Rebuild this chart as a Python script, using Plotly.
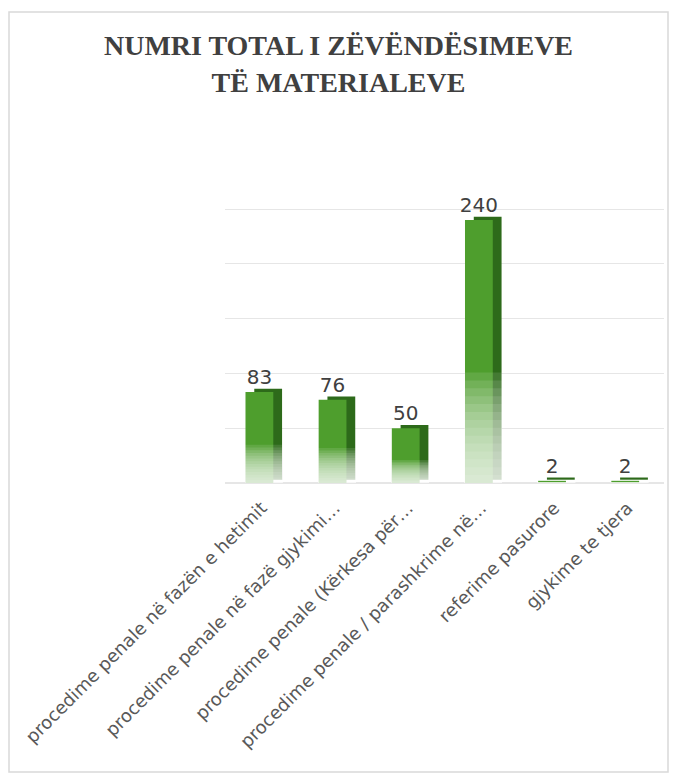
import plotly.graph_objects as go

categories = [
    "procedime penale në fazën e hetimit",
    "procedime penale në fazë gjykimi…",
    "procedime penale (Kërkesa për…",
    "procedime penale / parashkrime në…",
    "referime pasurore",
    "gjykime te tjera",
]
values = [83, 76, 50, 240, 2, 2]

title = "<b>NUMRI TOTAL I ZËVËNDËSIMEVE<br>TË MATERIALEVE</b>"

GREEN = "#4e9e2d"
DARK = "#2d6a1a"
TEXT = "#404040"

fig = go.Figure()

# dark side face of the pseudo 3D bars, shifted right and slightly up
fig.add_trace(go.Bar(
    x=categories, y=values, base=[3] * len(values),
    width=0.38, offset=-0.10,
    marker=dict(color=DARK, line=dict(width=0)),
    hoverinfo="skip",
))

# front face carrying the value labels
fig.add_trace(go.Bar(
    x=categories, y=values,
    width=0.38, offset=-0.22,
    marker=dict(color=GREEN, line=dict(width=0)),
    text=[str(v) for v in values], textposition="outside",
    constraintext="none",
    textfont=dict(family="DejaVu Sans", size=20, color=TEXT),
    cliponaxis=False,
))

# white fade towards the baseline
fades = [0.42, 0.39, 0.36, 0.33, 0.30, 0.27, 0.24, 0.21, 0.18, 0.15,
         0.12, 0.09, 0.06, 0.03]
for frac in fades:
    fig.add_trace(go.Bar(
        x=categories, y=[v * frac for v in values],
        width=0.52, offset=-0.23,
        marker=dict(color="white", opacity=0.11, line=dict(width=0)),
        hoverinfo="skip",
    ))

fig.update_layout(
    width=661, height=765,
    barmode="overlay",
    showlegend=False,
    paper_bgcolor="white",
    plot_bgcolor="white",
    margin=dict(l=217, r=5, t=200, b=290),
    title=dict(
        text=title, x=0.5, xref="container", xanchor="center",
        y=0.938, yref="container", yanchor="top",
        font=dict(family="Liberation Serif", size=28, color=TEXT),
    ),
    shapes=[dict(
        type="rect", xref="paper", yref="paper",
        x0=-216 / 439, x1=1 + 4 / 439, y0=-289 / 275, y1=1 + 196 / 275,
        line=dict(color="#d9d9d9", width=1.5), layer="below",
    )],
)

fig.update_xaxes(
    tickangle=-45,
    tickfont=dict(family="DejaVu Sans", size=18, color="#595959"),
    showline=False, ticks="", ticklabelstandoff=10,
)
fig.update_yaxes(
    range=[0, 251], dtick=50,
    showticklabels=False,
    gridcolor="#e6e6e6", gridwidth=1,
    zeroline=True, zerolinecolor="#e6e6e6",
)

fig.write_html("out.html")
